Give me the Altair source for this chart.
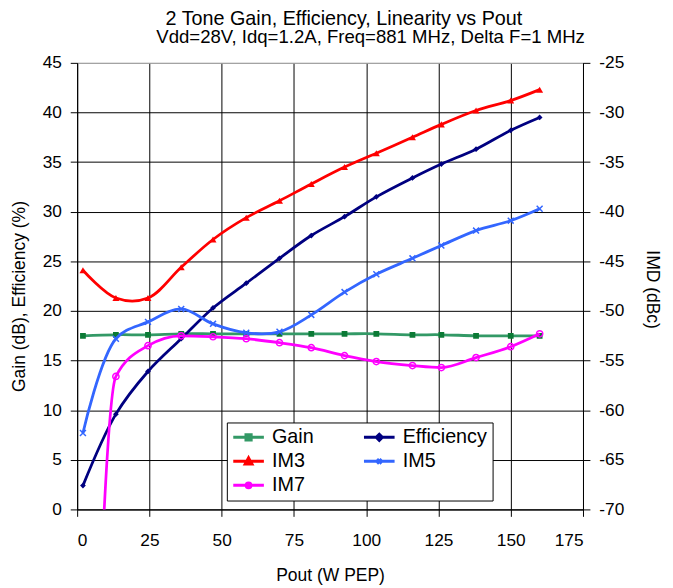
import altair as alt
import pandas as pd

# ---------------- data ----------------
pout = [2, 13.4, 24.5, 36, 47, 58.5, 70, 81, 92.5, 103.5, 116, 126, 138, 150, 160]
gain = [17.5, 17.6, 17.6, 17.7, 17.7, 17.7, 17.7, 17.7, 17.7, 17.7, 17.6, 17.6, 17.5, 17.5, 17.5]
efficiency = [2.4, 9.6, 13.9, 17.2, 20.3, 22.8, 25.3, 27.6, 29.5, 31.5, 33.4, 34.8, 36.3, 38.2, 39.5]
im3 = [-45.9, -48.7, -48.7, -45.6, -42.8, -40.6, -38.9, -37.2, -35.5, -34.1, -32.5, -31.2, -29.8, -28.8, -27.7]
im5 = [-62.3, -52.8, -51.1, -49.8, -51.3, -52.2, -52.1, -50.4, -48.1, -46.3, -44.7, -43.4, -41.9, -40.9, -39.7]
im7 = [-130, -56.6, -53.5, -52.5, -52.6, -52.8, -53.2, -53.7, -54.5, -55.1, -55.5, -55.7, -54.7, -53.6, -52.3]

series_names = ["Gain", "Efficiency", "IM3", "IM5", "IM7"]
series_colors = ["#339966", "#000080", "#FF0000", "#3366FF", "#FF00FF"]
left_series = ["Gain", "Efficiency"]
right_series = ["IM3", "IM5", "IM7"]
# legend reads row by row: Gain, Efficiency / IM3, IM5 / IM7 (Vega fills columns first)
legend_order = ["Gain", "IM3", "IM7", "Efficiency", "IM5"]

x_ticks = [0, 25, 50, 75, 100, 125, 150, 175]
left_ticks = [0, 5, 10, 15, 20, 25, 30, 35, 40, 45]
right_ticks = [-70, -65, -60, -55, -50, -45, -40, -35, -30, -25]

title_lines = ["2 Tone Gain, Efficiency, Linearity vs Pout",
               "Vdd=28V, Idq=1.2A, Freq=881 MHz, Delta F=1 MHz"]

rows = []
for name, vals in zip(series_names, [gain, efficiency, im3, im5, im7]):
    for p, v in zip(pout, vals):
        rows.append({"pout": p, "val": v, "series": name})
df = pd.DataFrame(rows)
color_of = dict(zip(series_names, series_colors))

FONT = "Liberation Sans"

interp = {"Gain": "catmull-rom", "Efficiency": "catmull-rom", "IM3": "catmull-rom",
          "IM5": "catmull-rom", "IM7": "monotone"}

# marker styles (plot) per series
marker_style = {
    "Gain": dict(shape="square", filled=True, size=34, color="#0b7a35"),
    "Efficiency": dict(shape="diamond", filled=True, size=34, color="#000080"),
    "IM3": dict(shape="triangle-up", filled=True, size=50, color="#FF0000"),
    "IM5": dict(shape="M-1,-1L1,1M-1,1L1,-1", filled=False, size=36, color="#3366FF", strokeWidth=1.5),
    "IM7": dict(shape="circle", filled=False, size=40, color="#FF00FF", strokeWidth=1.5),
}

# legend symbol paths (line + marker)
legend_path_of = {
    "Gain": "M-1,0L1,0M-0.17,-0.17L0.17,-0.17L0.17,0.17L-0.17,0.17Z",
    "Efficiency": "M-1,0L1,0M0,-0.2L0.2,0L0,0.2L-0.2,0Z",
    "IM3": "M-1,0L1,0M0,-0.22L0.22,0.18L-0.22,0.18Z",
    "IM5": "M-1,0L1,0M-0.15,-0.15L0.15,0.15M-0.15,0.15L0.15,-0.15",
    "IM7": "M-1,0L1,0M0.16,0A0.16,0.16 0 1,1 -0.16,0A0.16,0.16 0 1,1 0.16,0",
}
legend_paths = [legend_path_of[n] for n in legend_order]
legend_colors = [color_of[n] for n in legend_order]

legend = alt.Legend(
    title=None, orient="none", legendX=151.5, legendY=364,
    columns=2, gridAlign="all", padding=5,
    strokeColor="black", fillColor="white",
    labelFont=FONT, labelFontSize=20, labelColor="black", labelOffset=6.7,
    symbolSize=961, symbolStrokeWidth=3, symbolOpacity=1,
    clipHeight=20, rowPadding=4.3, columnPadding=6.3,
)

axis_common = dict(
    labelFont=FONT, labelFontSize=17.5, labelColor="black",
    titleFont=FONT, titleFontSize=17.7, titleFontWeight="normal", titleColor="black",
    domainColor="black", tickColor="black", tickSize=7,
    labelExpr="datum.value + ''",
)

x_axis = alt.Axis(values=x_ticks, grid=True, gridColor="black", gridWidth=1,
                  title="Pout (W PEP)", labelPadding=16, titleX=256, titleY=71.5,
                  titleAlign="center", titleBaseline="alphabetic", **axis_common)
x_enc = alt.X("pout:Q", scale=alt.Scale(domain=[0, 175], nice=False, zero=False), axis=x_axis)

left_axis = alt.Axis(orient="left", values=left_ticks, grid=True,
                     gridColor={"condition": {"test": "datum.value >= 45", "value": "#a0a0a0"}, "value": "black"},
                     gridWidth=1, title="Gain (dB), Efficiency (%)", labelPadding=9,
                     titleAngle=270, titleX=-53.5, titleY=236, titleAlign="center",
                     titleBaseline="alphabetic", **axis_common)
y_left = alt.Y("val:Q", scale=alt.Scale(domain=[0, 45], nice=False, zero=False), axis=left_axis)

right_axis = alt.Axis(orient="right", values=right_ticks, grid=False, title="IMD (dBc)",
                      labelPadding=9, titleAngle=90, titleX=64, titleY=229, titleAlign="center",
                      titleBaseline="alphabetic", **axis_common)
y_right = alt.Y("val:Q", scale=alt.Scale(domain=[-70, -25], nice=False, zero=False), axis=right_axis)

base = alt.Chart(df)


def group(names, y_enc):
    layers = []
    for n in names:
        sub = base.transform_filter(alt.datum.series == n)
        layers.append(
            sub.mark_line(interpolate=interp[n], strokeWidth=2.8, clip=True,
                          color=color_of[n]).encode(x=x_enc, y=y_enc)
        )
    for n in names:
        sub = base.transform_filter(alt.datum.series == n)
        layers.append(
            sub.mark_point(clip=True, opacity=1, **marker_style[n]).encode(x=x_enc, y=y_enc)
        )
    return alt.layer(*layers)


left_group = group(left_series, y_left)
right_group = group(right_series, y_right)

# legend-only layer (no marks drawn; entries come from the fixed scale domains)
legend_layer = base.transform_filter("false").mark_point(
    filled=True, opacity=1, strokeWidth=3, size=961
).encode(
    shape=alt.Shape("series:N", scale=alt.Scale(domain=legend_order, range=legend_paths), legend=legend),
    fill=alt.Fill("series:N", scale=alt.Scale(domain=legend_order, range=legend_colors), legend=legend),
    stroke=alt.Stroke("series:N", scale=alt.Scale(domain=legend_order, range=legend_colors), legend=legend),
)

# two-line chart title as text
title_df = pd.DataFrame({"t": title_lines, "line": [0, 1]})
title1 = alt.Chart(title_df).transform_filter(alt.datum.line == 0).mark_text(
    font=FONT, fontSize=20, color="black", align="center", baseline="alphabetic"
).encode(text="t:N", x=alt.value(270), y=alt.value(-38.5))
title2 = alt.Chart(title_df).transform_filter(alt.datum.line == 1).mark_text(
    font=FONT, fontSize=18.8, color="black", align="center", baseline="alphabetic"
).encode(text="t:N", x=alt.value(297), y=alt.value(-20))

chart = alt.layer(left_group, right_group, legend_layer, title1, title2).resolve_scale(
    y="independent"
).properties(
    width=512, height=452,
    padding={"left": 70, "top": 52, "right": 83, "bottom": 76},
    autosize=alt.AutoSizeParams(type="none"),
).configure(font=FONT, background="white").configure_view(stroke="#a0a0a0", strokeWidth=1)

chart.save("out.html", embed_options={"renderer": "svg", "actions": False})
